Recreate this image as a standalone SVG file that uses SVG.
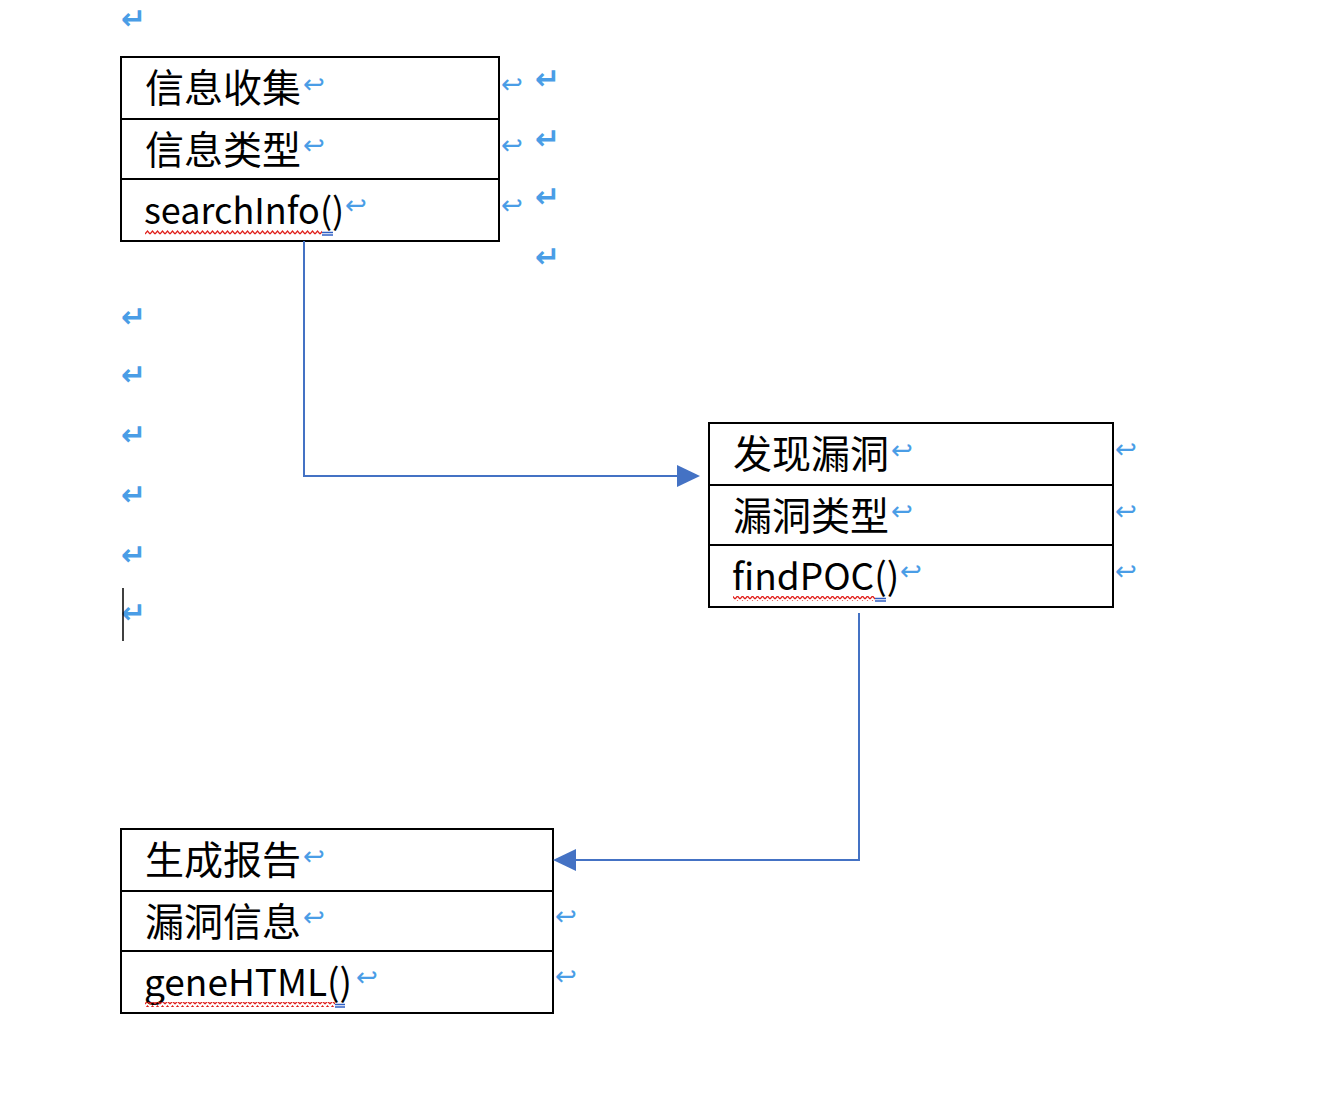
<svg xmlns="http://www.w3.org/2000/svg" width="1338" height="1096" viewBox="0 0 1338 1096">
<style>
.box{fill:#fff;stroke:#000;stroke-width:2}
.sep{stroke:#000;stroke-width:2}
.t{font-family:"Noto Sans CJK SC","Noto Sans",sans-serif;font-size:39px;fill:#000}
.l{font-family:"Noto Sans CJK SC","Noto Sans",sans-serif;font-size:36px;fill:#000}
.l2{font-family:"Noto Sans CJK SC","Noto Sans",sans-serif;font-size:37px;fill:#000}
.m{font-family:"DejaVu Sans",sans-serif;font-size:26px;fill:#4a9de6}
.M{font-family:"DejaVu Sans",sans-serif;font-size:30px;fill:#4a9de6;font-weight:bold}
.con{fill:none;stroke:#4472c4;stroke-width:2}
.wave{fill:url(#wave)}
.blu{stroke:#2f5fc4;stroke-width:1.5}
</style>
<defs>
<pattern id="wave" width="5" height="5" patternUnits="userSpaceOnUse">
<path d="M0,4 L2.5,1 L5,4" fill="none" stroke="#e0201c" stroke-width="1.2"/>
</pattern>
</defs>
<rect width="1338" height="1096" fill="#fff"/>

<g id="marks">
<text class="M" x="121" y="29">↵</text>
<text class="M" x="121" y="327">↵</text>
<text class="M" x="121" y="385">↵</text>
<text class="M" x="121" y="445">↵</text>
<text class="M" x="121" y="505">↵</text>
<text class="M" x="121" y="565">↵</text>
<text class="M" x="121" y="623">↵</text>
<text class="M" x="535" y="89">↵</text>
<text class="M" x="535" y="149">↵</text>
<text class="M" x="535" y="207">↵</text>
<text class="M" x="535" y="267">↵</text>
<text class="m" x="501" y="93">↩</text>
<text class="m" x="501" y="154">↩</text>
<text class="m" x="501" y="214">↩</text>
<text class="m" x="1115" y="458">↩</text>
<text class="m" x="1115" y="520">↩</text>
<text class="m" x="1115" y="580">↩</text>
<text class="m" x="555" y="925">↩</text>
<text class="m" x="555" y="985">↩</text>
<line x1="123" y1="588" x2="123" y2="641" stroke="#000" stroke-width="1.5"/>
</g>

<g id="node-info">
<rect class="box" x="121" y="57" width="378" height="184"/>
<line class="sep" x1="121" y1="119" x2="499" y2="119"/>
<line class="sep" x1="121" y1="179" x2="499" y2="179"/>
<text class="t" x="145" y="102">信息收集</text>
<text class="m" x="303" y="93">↩</text>
<text class="t" x="145" y="164">信息类型</text>
<text class="m" x="303" y="154">↩</text>
<text class="l" x="144" y="224">searchInfo()</text>
<text class="m" x="345" y="214">↩</text>
<rect class="wave" x="145" y="230" width="177" height="5"/>
<line class="blu" x1="322" y1="232.5" x2="333" y2="232.5"/>
<line class="blu" x1="322" y1="235" x2="333" y2="235"/>
</g>

<g id="node-vuln">
<rect class="box" x="709" y="423" width="404" height="184"/>
<line class="sep" x1="709" y1="485" x2="1113" y2="485"/>
<line class="sep" x1="709" y1="545" x2="1113" y2="545"/>
<text class="t" x="733" y="468">发现漏洞</text>
<text class="m" x="891" y="459">↩</text>
<text class="t" x="733" y="530">漏洞类型</text>
<text class="m" x="891" y="520">↩</text>
<text class="l2" x="732" y="590">findPOC()</text>
<text class="m" x="900" y="580">↩</text>
<rect class="wave" x="733" y="596" width="142" height="5"/>
<line class="blu" x1="875" y1="598.5" x2="886" y2="598.5"/>
<line class="blu" x1="875" y1="601" x2="886" y2="601"/>
</g>

<g id="node-report">
<rect class="box" x="121" y="829" width="432" height="184"/>
<line class="sep" x1="121" y1="891" x2="553" y2="891"/>
<line class="sep" x1="121" y1="951" x2="553" y2="951"/>
<text class="t" x="145" y="874">生成报告</text>
<text class="m" x="303" y="865">↩</text>
<text class="t" x="145" y="936">漏洞信息</text>
<text class="m" x="303" y="926">↩</text>
<text class="l2" x="144" y="996">geneHTML()</text>
<text class="m" x="356" y="986">↩</text>
<rect class="wave" x="145" y="1002" width="190" height="5"/>
<line class="blu" x1="335" y1="1004.5" x2="345" y2="1004.5"/>
<line class="blu" x1="335" y1="1007" x2="345" y2="1007"/>
</g>

<g id="connectors">
<path class="con" d="M304,241 V476 H678"/>
<path d="M677,465 L700,476 L677,487 Z" fill="#4472c4"/>
<path class="con" d="M859,613 V860 H575"/>
<path d="M576,849 L553,860 L576,871 Z" fill="#4472c4"/>
</g>
</svg>
